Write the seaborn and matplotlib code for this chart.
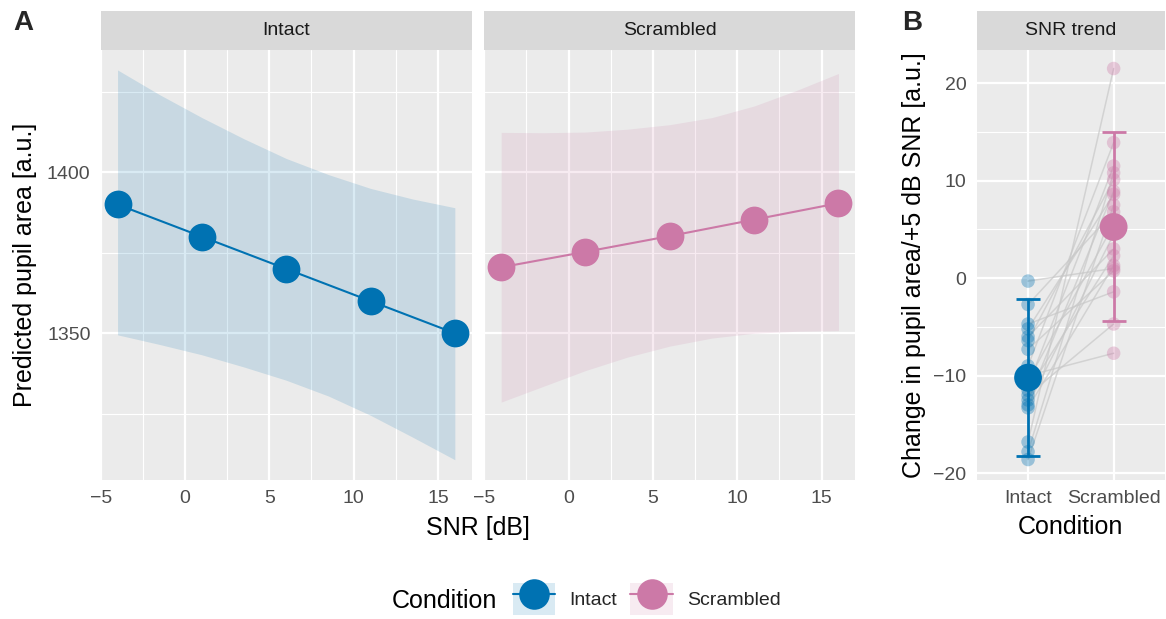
import numpy as np
import pandas as pd
import seaborn as sns
import matplotlib
matplotlib.use("Agg")
import matplotlib.pyplot as plt
from matplotlib.ticker import FixedLocator
from matplotlib.lines import Line2D
from matplotlib.patches import Patch

# ---------------- data ----------------
conditions = ["Intact", "Scrambled"]
snr = [-4, 1, 6, 11, 16]
intact_pred = [1390.0, 1380.0, 1370.0, 1360.0, 1350.0]
scrambled_pred = [1370.5, 1375.3, 1380.2, 1385.3, 1390.4]

ribbon_snr = [-4, -1.5, 1, 3.5, 6, 8.5, 11, 13.5, 16]
intact_lo = [1349.5, 1346.5, 1343.3, 1339.5, 1335.4, 1330.5, 1324.5, 1317.7, 1310.7]
intact_hi = [1431.8, 1424.1, 1417.0, 1410.4, 1404.3, 1399.3, 1395.0, 1391.7, 1389.0]
scrambled_lo = [1328.6, 1333.5, 1338.4, 1342.6, 1346.0, 1348.5, 1350.0, 1350.6, 1350.8]
scrambled_hi = [1412.4, 1412.3, 1412.5, 1413.4, 1414.8, 1417.0, 1420.6, 1425.4, 1430.7]

# per-participant SNR trend (paired)
trend_intact = [-0.3, -2.7, -4.7, -5.2, -6.0, -6.4, -7.3, -9.0, -10.0, -10.5,
                -11.0, -11.5, -12.0, -12.5, -13.0, -13.3, -16.8, -17.8, -18.6]
trend_scrambled = [1.0, 6.8, -1.4, 8.6, 3.0, 10.1, 0.75, 13.9, -7.7, 5.5,
                   11.5, 2.3, -4.7, 8.9, 4.5, 1.3, 21.5, 10.8, 7.5]
trend_mean = [-10.2, 5.25]
trend_lower = [-18.2, -4.4]
trend_upper = [-2.1, 15.0]

colors = {"Intact": "#0072B2", "Scrambled": "#CC79A7"}

# ---------------- style ----------------
sns.set_theme(style="darkgrid")
plt.rcParams["font.family"] = ["Liberation Sans", "DejaVu Sans"]
plt.rcParams["axes.unicode_minus"] = True

W, H = 1166, 619
fig = plt.figure(figsize=(W / 100, H / 100), dpi=100)
fig.patch.set_facecolor("white")

def rect(x0, y0, x1, y1):
    return [x0 / W, 1 - y1 / H, (x1 - x0) / W, (y1 - y0) / H]

PANEL_BG = "#EBEBEB"
STRIP_BG = "#D9D9D9"
TICK_TXT = "#4D4D4D"
TICK_COL = "#333333"
SMALL = 14
TITLE = 18

def style_axes(ax):
    ax.set_facecolor(PANEL_BG)
    for s in ax.spines.values():
        s.set_visible(False)
    ax.set_axisbelow(True)
    ax.grid(which="major", color="white", linewidth=1.6)
    ax.grid(which="minor", color="white", linewidth=0.8)
    ax.tick_params(which="major", length=4.3, width=1.1, color=TICK_COL,
                   labelcolor=TICK_TXT, labelsize=SMALL, pad=3)
    ax.tick_params(which="minor", length=0)

def strip(x0, x1, label):
    sax = fig.add_axes(rect(x0, 11, x1, 50))
    sax.set_facecolor(STRIP_BG)
    for s in sax.spines.values():
        s.set_visible(False)
    sax.set_xticks([]); sax.set_yticks([])
    sax.grid(False)
    sax.text(0.5, 0.5, label, ha="center", va="center", fontsize=SMALL,
             color="#1A1A1A", transform=sax.transAxes)

# ---------------- panel A ----------------
panels = [
    ("Intact", 100.7, 471.7, intact_pred, intact_lo, intact_hi),
    ("Scrambled", 484.3, 855.3, scrambled_pred, scrambled_lo, scrambled_hi),
]
axA = []
for i, (cond, x0, x1, pred, lo, hi) in enumerate(panels):
    ax = fig.add_axes(rect(x0, 50, x1, 480))
    style_axes(ax)
    ax.fill_between(ribbon_snr, lo, hi, color=colors[cond], alpha=0.15,
                    linewidth=0)
    df = pd.DataFrame({"SNR": snr, "pred": pred})
    sns.lineplot(data=df, x="SNR", y="pred", ax=ax, color=colors[cond],
                 linewidth=1.5, marker="o", markersize=20, markeredgewidth=0)
    ax.set_xlim(-5, 17)
    ax.set_ylim(1304.4, 1438.0)
    ax.xaxis.set_major_locator(FixedLocator([-5, 0, 5, 10, 15]))
    ax.xaxis.set_minor_locator(FixedLocator([-2.5, 2.5, 7.5, 12.5]))
    ax.yaxis.set_major_locator(FixedLocator([1350, 1400]))
    ax.yaxis.set_minor_locator(FixedLocator([1325, 1375, 1425]))
    ax.set_xlabel("")
    ax.set_ylabel("")
    if i == 1:
        ax.tick_params(axis="y", which="both", left=False, labelleft=False)
    strip(x0, x1, cond)
    axA.append(ax)

axA[0].set_ylabel("Predicted pupil area [a.u.]", fontsize=TITLE,
                  color="black", labelpad=7)
fig.text(478 / W, 1 - 528 / H, "SNR [dB]", ha="center", va="center",
         fontsize=TITLE, color="black")

# ---------------- panel B ----------------
axB = fig.add_axes(rect(976.7, 50, 1165, 480))
style_axes(axB)
for a, b in zip(trend_intact, trend_scrambled):
    axB.plot(conditions, [a, b], color="#C8C8C8", linewidth=1.1, alpha=0.7,
             zorder=1)
long = pd.DataFrame({
    "Condition": ["Intact"] * len(trend_intact) + ["Scrambled"] * len(trend_scrambled),
    "trend": trend_intact + trend_scrambled,
})
sns.scatterplot(data=long, x="Condition", y="trend", hue="Condition",
                palette=colors, s=95, alpha=0.35, linewidth=0, ax=axB,
                legend=False, zorder=2)
for j, cond in enumerate(conditions):
    m = trend_mean[j]
    axB.errorbar([cond], [m], yerr=[[m - trend_lower[j]], [trend_upper[j] - m]],
                 color=colors[cond], linewidth=2.0, capsize=8.5, capthick=2.0,
                 fmt="none", zorder=3)
summ = pd.DataFrame({"Condition": conditions, "mean": trend_mean})
sns.scatterplot(data=summ, x="Condition", y="mean", hue="Condition",
                palette=colors, s=400, linewidth=0, ax=axB, legend=False,
                zorder=4)
axB.set_xlim(-0.6, 1.6)
axB.set_ylim(-20.7, 23.4)
axB.yaxis.set_major_locator(FixedLocator([-20, -10, 0, 10, 20]))
axB.yaxis.set_minor_locator(FixedLocator([-15, -5, 5, 15]))
axB.set_xlabel("Condition", fontsize=TITLE, color="black", labelpad=6)
axB.set_ylabel("Change in pupil area/+5 dB SNR [a.u.]", fontsize=TITLE,
               color="black", labelpad=5)
strip(976.7, 1165, "SNR trend")

# panel tags
fig.text(23 / W, 1 - 23 / H, "A", ha="center", va="center", fontsize=20,
         fontweight="bold")
fig.text(912 / W, 1 - 23 / H, "B", ha="center", va="center", fontsize=20,
         fontweight="bold")

# ---------------- legend ----------------
fig.text(392 / W, 1 - 601 / H, "Condition", ha="left", va="center",
         fontsize=TITLE, color="black")
handles = []
for cond in conditions:
    patch = Patch(facecolor=colors[cond], alpha=0.15, edgecolor="none")
    line = Line2D([], [], color=colors[cond], linewidth=1.5, marker="o",
                  markersize=22, markeredgewidth=0)
    handles.append((patch, line))
fig.legend(handles, conditions, loc="center left",
           bbox_to_anchor=(512.7 / W, 1 - 599 / H), ncol=2, frameon=False,
           fontsize=SMALL, handlelength=2.2, handleheight=2.1,
           handletextpad=0.7, columnspacing=0.7, borderpad=0,
           borderaxespad=0)

fig.savefig("out.png", dpi=100)
